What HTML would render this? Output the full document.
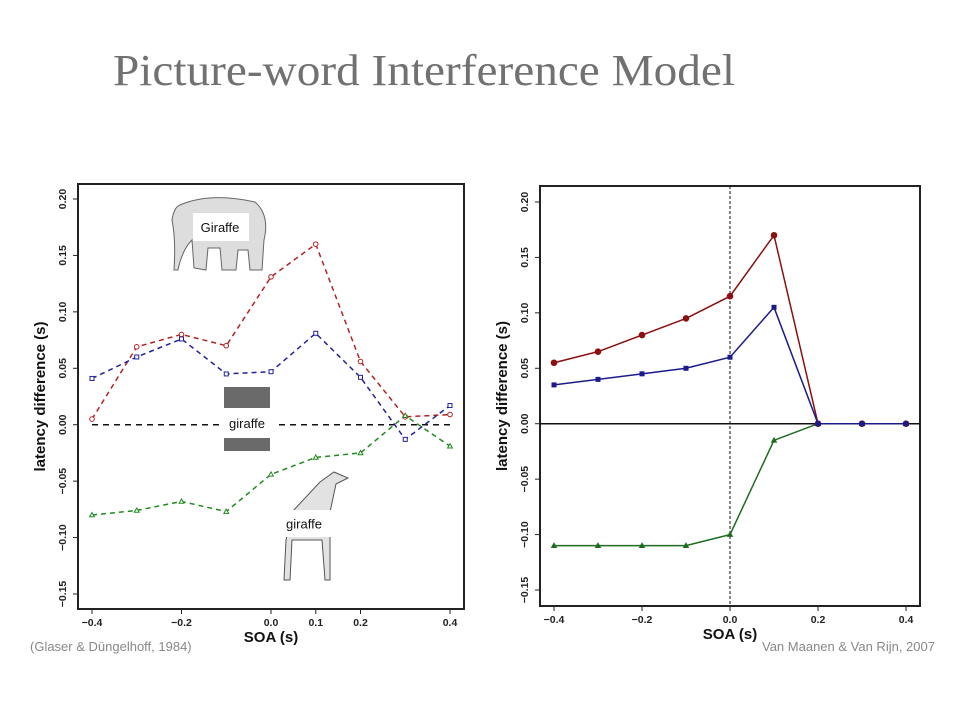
<!DOCTYPE html>
<html><head><meta charset="utf-8"><style>
body{margin:0;background:#fff;}
svg{display:block;font-family:"Liberation Sans",sans-serif;}
</style></head><body>
<svg id="svg" width="960" height="720" xmlns="http://www.w3.org/2000/svg">
<text x="113" y="85" font-family="Liberation Serif, serif" font-size="44" fill="#717171" textLength="622" lengthAdjust="spacingAndGlyphs">Picture-word Interference Model</text>
<g id="left"></g>
<g id="right"></g>
<text x="30" y="651" font-size="13" fill="#888">(Glaser &amp; Düngelhoff, 1984)</text>
<text x="762" y="651" font-size="13" fill="#888">Van Maanen &amp; Van Rijn, 2007</text>
</svg>
<script>
const xVals=[-0.4,-0.3,-0.2,-0.1,0,0.1,0.2,0.3,0.4];
const yTicks=[0.20,0.15,0.10,0.05,0.00,-0.05,-0.10,-0.15];
const yTickLabels=["0.20","0.15","0.10","0.05","0.00","\u22120.05","\u22120.10","\u22120.15"];
const leftXTicks=[-0.4,-0.2,0,0.1,0.2,0.4];
const leftXTickLabels=["\u22120.4","\u22120.2","0.0","0.1","0.2","0.4"];
const rightXTicks=[-0.4,-0.2,0,0.2,0.4];
const rightXTickLabels=["\u22120.4","\u22120.2","0.0","0.2","0.4"];
const leftRed=[0.005,0.069,0.080,0.070,0.131,0.160,0.056,0.007,0.009];
const leftBlue=[0.041,0.060,0.076,0.045,0.047,0.081,0.042,-0.013,0.017];
const leftGreen=[-0.080,-0.076,-0.068,-0.077,-0.044,-0.029,-0.025,0.008,-0.019];
const rightRed=[0.055,0.065,0.080,0.095,0.115,0.170,0,0,0];
const rightBlue=[0.035,0.040,0.045,0.050,0.060,0.105,0,0,0];
const rightGreen=[-0.110,-0.110,-0.110,-0.110,-0.100,-0.015,0,0,0];
const NS="http://www.w3.org/2000/svg";
function mk(parent,tag,attrs){const e=document.createElementNS(NS,tag);for(const k in attrs)e.setAttribute(k,attrs[k]);parent.appendChild(e);return e;}
function chart(g,cfg){
  const sx=v=>cfg.x0+(v-(-0.4))/0.8*(cfg.x1-cfg.x0);
  const sy=v=>cfg.y0+(0.2-v)/0.35*(cfg.y1-cfg.y0);
  const fr=mk(g,'rect',{x:cfg.fx,y:cfg.fy,width:cfg.fw,height:cfg.fh,fill:'none',stroke:'#222','stroke-width':2});
  
  
  yTicks.forEach((t,i)=>{
    const y=sy(t);
    const tk=mk(g,'line',{x1:cfg.fx,x2:cfg.fx-5,y1:y,y2:y,stroke:'#222'});
    
    
    const tx=mk(g,'text',{x:cfg.fx-12,y:y,'font-size':10.5,'font-weight':'bold','text-anchor':'middle',transform:`rotate(-90 ${cfg.fx-12} ${y})`,fill:'#222'});
    tx.textContent=yTickLabels[i];
    
    
  });
  cfg.xt.forEach((t,i)=>{
    const x=sx(t);
    const tk=mk(g,'line',{x1:x,x2:x,y1:cfg.fy+cfg.fh,y2:cfg.fy+cfg.fh+5,stroke:'#222'});
    
    
    const tx=mk(g,'text',{x:x,y:cfg.fy+cfg.fh+17,'font-size':10.5,'font-weight':'bold','text-anchor':'middle',fill:'#222'});
    tx.textContent=cfg.xl[i];
    
    
  });
  const xt=mk(g,'text',{x:cfg.fx+cfg.fw/2,y:cfg.fy+cfg.fh+33,'font-size':15,'font-weight':'bold','text-anchor':'middle',fill:'#111'});
  xt.textContent='SOA (s)';
  
  
  const yx=cfg.fx-33, yy=cfg.fy+cfg.fh/2;
  const yt=mk(g,'text',{x:yx,y:yy,'font-size':15,'font-weight':'bold','text-anchor':'middle',transform:`rotate(-90 ${yx} ${yy})`,fill:'#111'});
  yt.textContent='latency difference (s)';
  
  
  cfg.before&&cfg.before(sx,sy);
  cfg.series.forEach(s=>{
    const pts=s.vals.map((v,i)=>`${sx(xVals[i])},${sy(v)}`).join(' ');
    const pl=mk(g,'polyline',{points:pts,fill:'none',stroke:s.color,'stroke-width':1.5,'stroke-dasharray':cfg.dash||'none'});
    
    
    s.vals.forEach((v,i)=>{
      const x=sx(xVals[i]),y=sy(v);let m;
      if(s.shape==='circle')m=mk(g,'circle',{cx:x,cy:y,r:cfg.filled?2.8:2.3,fill:cfg.filled?s.color:'#fff',stroke:s.color});
      else if(s.shape==='square')m=mk(g,'rect',{x:x-2,y:y-2,width:4,height:4,fill:cfg.filled?s.color:'#fff',stroke:s.color});
      else m=mk(g,'polygon',{points:`${x},${y-2.5} ${x-2.4},${y+1.8} ${x+2.4},${y+1.8}`,fill:cfg.filled?s.color:'#fff',stroke:s.color});
      
      
    });
  });
}
const L=document.getElementById('left');
chart(L,{fx:78,fy:184,fw:386,fh:425,x0:92,x1:450,y0:199,y1:594,xt:leftXTicks,xl:leftXTickLabels,dash:'5,4',filled:false,
  before:(sx,sy)=>{
    const z=mk(L,'line',{x1:sx(-0.4),x2:sx(0.4),y1:sy(0),y2:sy(0),stroke:'#111','stroke-width':1.5,'stroke-dasharray':'6,5'});
    
    
    const el=mk(L,'path',{d:'M180,205 Q210,192 255,202 Q270,215 264,240 L262,270 L250,270 L248,250 L238,250 L236,270 L222,270 L220,248 L208,248 L206,270 L194,268 L192,240 Q182,250 178,270 L174,270 Q176,240 172,220 Q174,207 180,205Z',fill:'#ddd',stroke:'#666'});
    
    
    const bk=mk(L,'rect',{x:224,y:387,width:46,height:64,fill:'#6a6a6a'});
    
    
    const gf=mk(L,'path',{d:'M320,482 L334,472 L348,478 L336,484 L330,512 L330,580 L325,580 L322,540 L292,540 L290,580 L284,580 L286,540 L292,512 Z',fill:'#e2e2e2',stroke:'#555'});
    
    
    [[193,213,56,28,'Giraffe',220],[219,408,56,30,'giraffe',247],[277,510,54,27,'giraffe',304]].forEach(b=>{
      const r=mk(L,'rect',{x:b[0],y:b[1],width:b[2],height:b[3],fill:'#fff'});
      
      
      const t=mk(L,'text',{x:b[5],y:b[1]+b[3]/2+5,'font-size':13,'text-anchor':'middle',fill:'#111'});
      t.textContent=b[4];
      
      
    });
  },
  series:[{name:'red-related',vals:leftRed,color:'#b22222',shape:'circle'},{name:'blue-unrelated',vals:leftBlue,color:'#22229a',shape:'square'},{name:'green-identical',vals:leftGreen,color:'#1f8a1f',shape:'triangle'}]});
const R=document.getElementById('right');
chart(R,{fx:540,fy:186,fw:380,fh:420,x0:554,x1:906,y0:202,y1:590,xt:rightXTicks,xl:rightXTickLabels,filled:true,
  before:(sx,sy)=>{
    const z=mk(R,'line',{x1:540,x2:920,y1:sy(0),y2:sy(0),stroke:'#111','stroke-width':1.5});
    
    
    const v=mk(R,'line',{x1:sx(0),x2:sx(0),y1:186,y2:606,stroke:'#111','stroke-dasharray':'3,2'});
    
    
  },
  series:[{name:'green-identical',vals:rightGreen,color:'#1f6b1f',shape:'triangle'},{name:'red-related',vals:rightRed,color:'#8b1010',shape:'circle'},{name:'blue-unrelated',vals:rightBlue,color:'#1a1a8a',shape:'square'}]});
</script>
</body></html>
